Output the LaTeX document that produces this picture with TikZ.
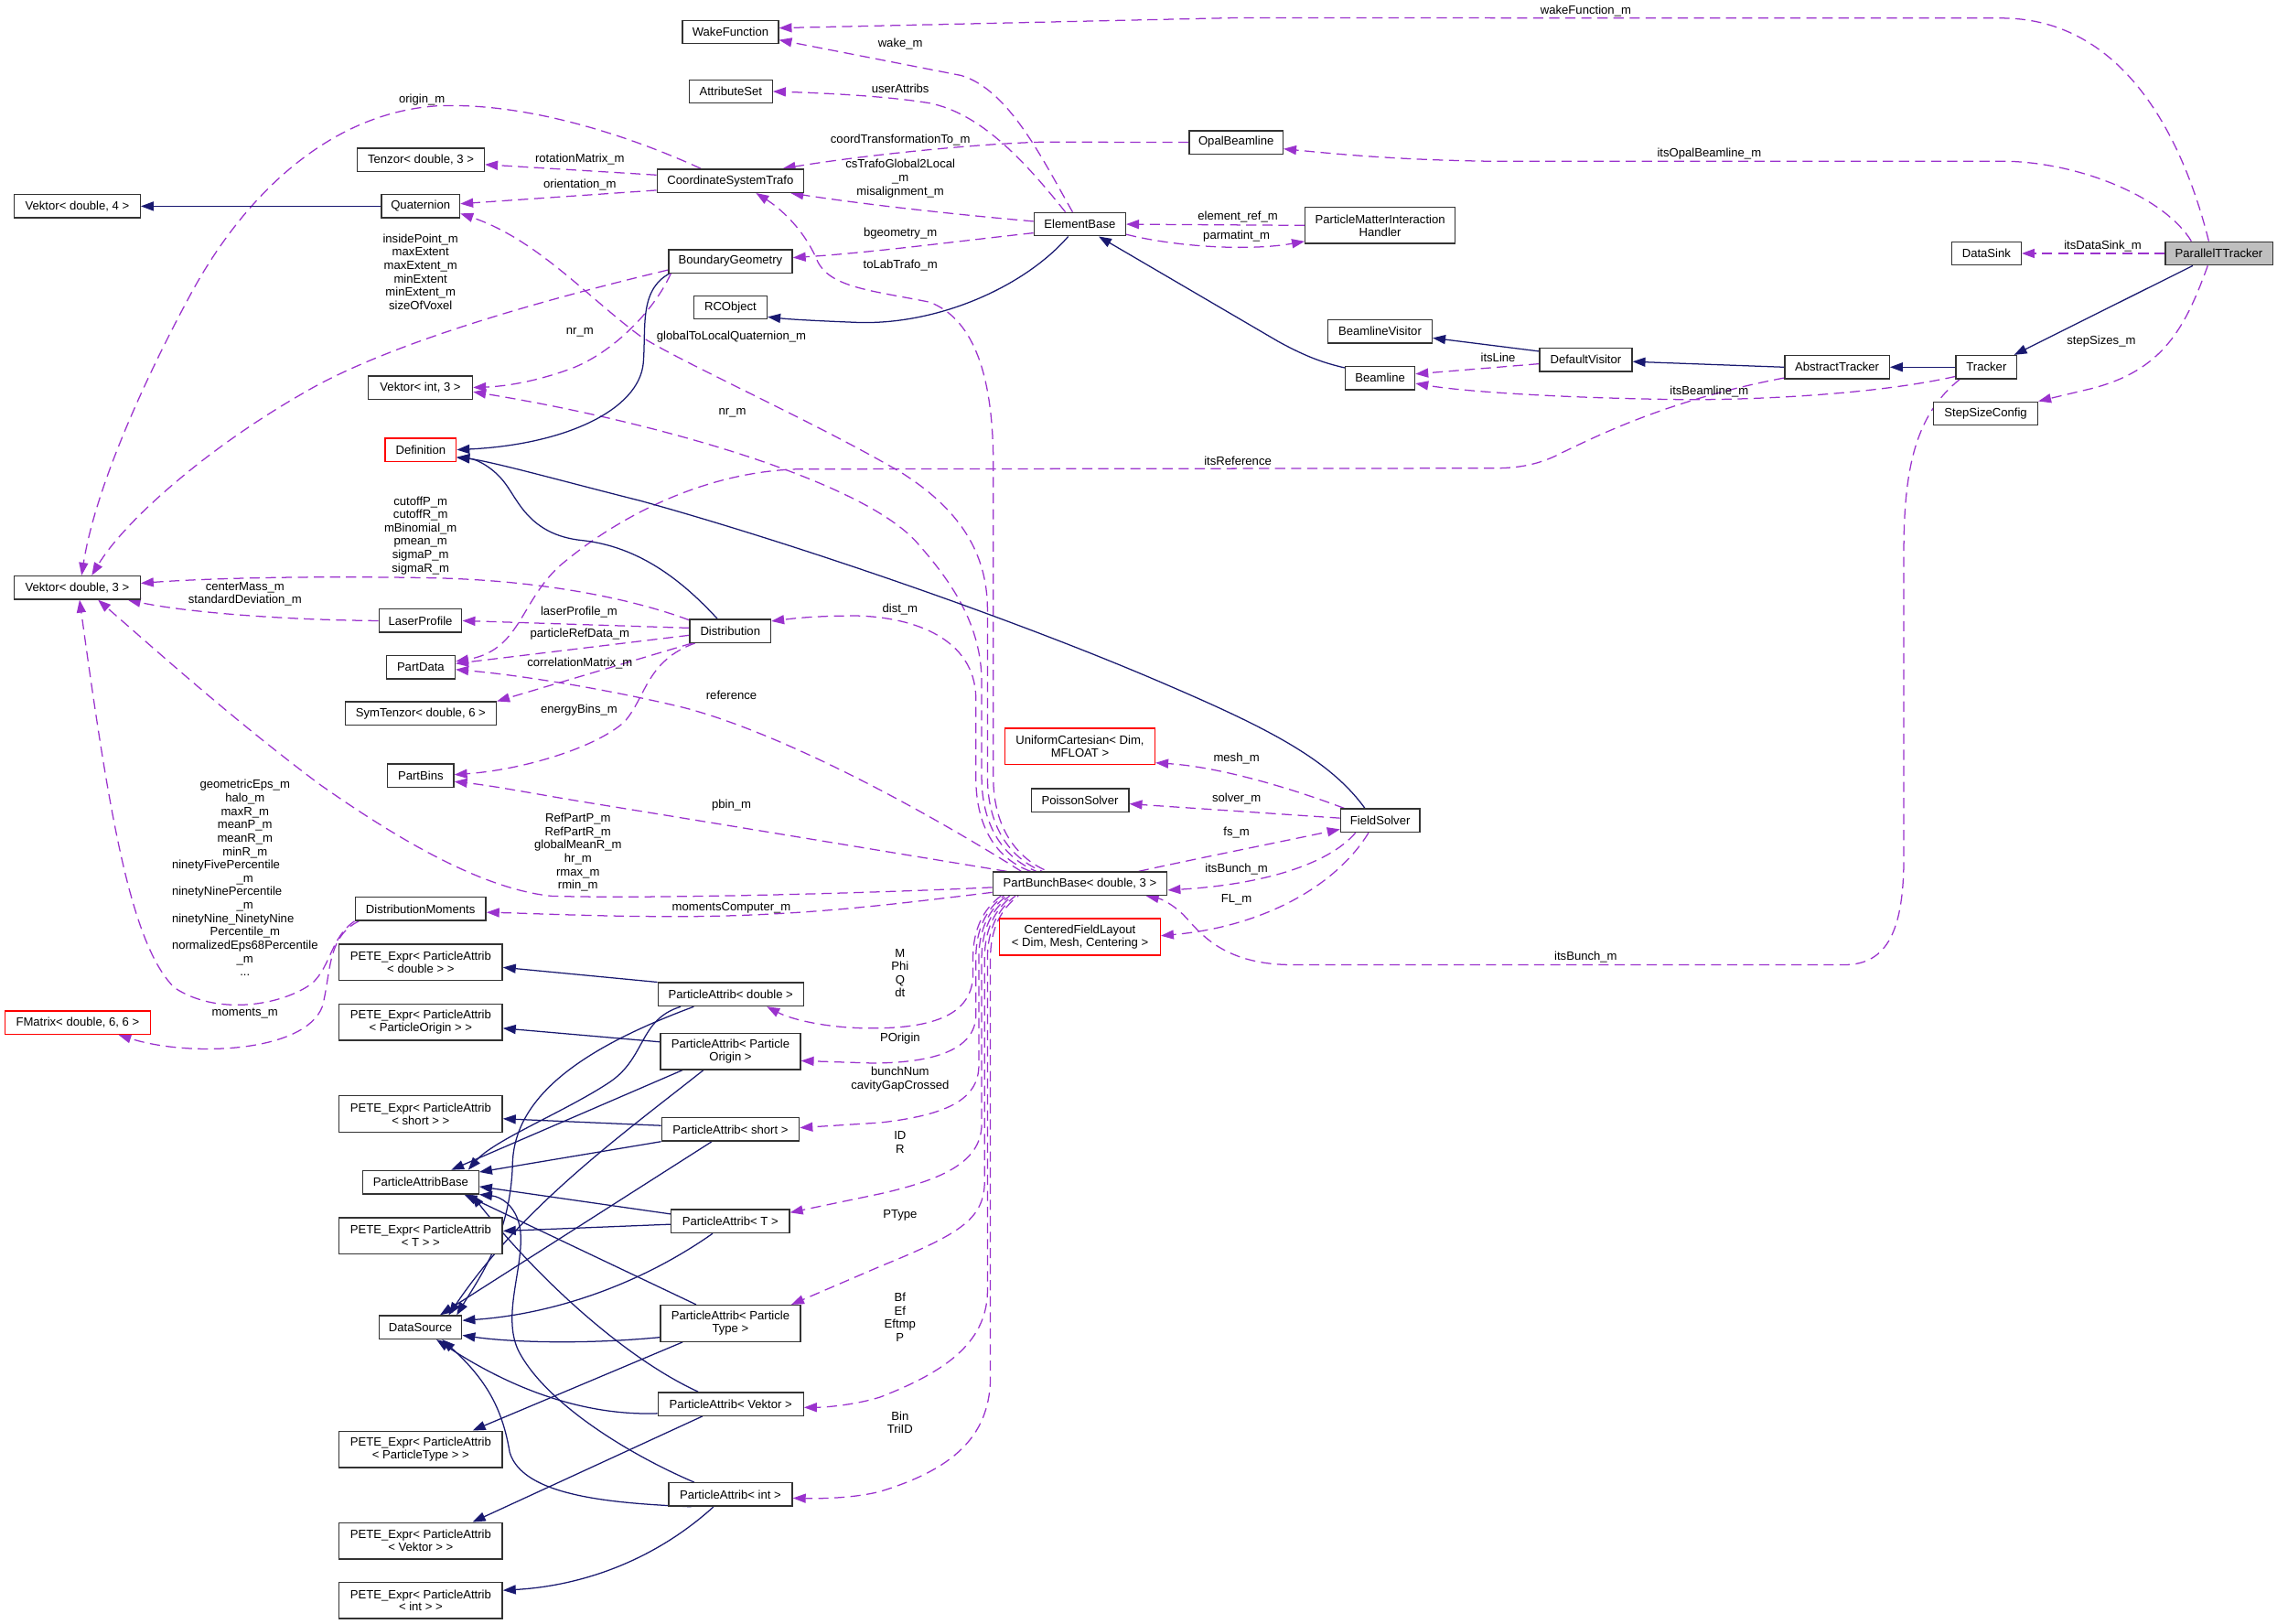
\documentclass[tikz,border=0pt]{standalone}
\usepackage{fontspec}
\setmainfont{Liberation Sans}
\usetikzlibrary{arrows.meta,calc,backgrounds}
\definecolor{eblue}{HTML}{191970}
\definecolor{epurp}{HTML}{9A32CD}
\newlength\LAw
\newcommand\LA[1]{\makebox[\LAw][l]{#1}}
\begin{document}
\settowidth{\LAw}{\fontsize{4.7}{5.25}\selectfont normalizedEps68Percentile}
\begin{tikzpicture}[x=0.02cm,y=-0.02cm,
 cls/.style={draw=black!80, line width=0.5pt, fill=white, inner sep=0pt, minimum height=0.32cm, font=\fontsize{4.7}{5.0}\selectfont, align=center},
 cls2/.style={cls, minimum height=0.5cm},
 redcls/.style={draw=red},
 inh/.style={draw=eblue, line width=0.45pt, -{Triangle[length=5pt,width=3.6pt]}},
 mem/.style={draw=epurp, line width=0.45pt, dash pattern=on 4pt off 2.3pt, -{Triangle[length=5pt,width=3.6pt]}},
 lbl/.style={font=\fontsize{4.7}{5.25}\selectfont, align=center, inner sep=0pt, text=black}]
\useasboundingbox (0,0) rectangle (1568,1118);

% ---------- nodes ----------
\node[cls,minimum width=1.32cm] (WF) at (503,22) {WakeFunction};
\node[cls,minimum width=1.146cm] (AS) at (503.2,63) {AttributeSet};
\node[cls,minimum width=2.02cm] (CST) at (503,124.5) {CoordinateSystemTrafo};
\node[cls,minimum width=1.704cm] (BG) at (503,179.9) {BoundaryGeometry};
\node[cls,minimum width=1.008cm] (RCO) at (503,211.7) {RCObject};
\node[cls,minimum width=1.26cm] (EB) at (743.6,154.4) {ElementBase};
\node[cls,minimum width=1.29cm] (OB) at (851.2,98) {OpalBeamline};
\node[cls2,minimum width=2.064cm] (PMIH) at (950.4,155.2) {ParticleMatterInteraction\\Handler};
\node[cls,minimum width=0.956cm] (DSink) at (1367.9,174.5) {DataSink};
\node[cls,minimum width=1.48cm,fill=black!25] (PTT) at (1528,174.5) {ParallelTTracker};
\node[cls,minimum width=1.434cm] (BV) at (950.3,228.2) {BeamlineVisitor};
\node[cls,minimum width=1.272cm] (DV) at (1092,247.7) {DefaultVisitor};
\node[cls,minimum width=0.956cm] (BL) at (950.4,260.3) {Beamline};
\node[cls,minimum width=1.442cm] (AT) at (1265,252.8) {AbstractTracker};
\node[cls,minimum width=0.84cm] (TR) at (1367.9,252.8) {Tracker};
\node[cls,minimum width=1.432cm] (SSC) at (1367.4,284.7) {StepSizeConfig};
\node[cls,minimum width=1.75cm] (TZ) at (289.8,110) {Tenzor< double, 3 >};
\node[cls,minimum width=1.734cm] (VD4) at (53.2,142) {Vektor< double, 4 >};
\node[cls,minimum width=1.08cm] (QT) at (289.6,142) {Quaternion};
\node[cls,minimum width=1.436cm] (VI3) at (289.5,266.8) {Vektor< int, 3 >};
\node[cls,redcls,minimum width=0.978cm] (DEF) at (289.7,309.7) {Definition};
\node[cls,minimum width=1.734cm] (VD3) at (53.2,404.6) {Vektor< double, 3 >};
\node[cls,minimum width=1.14cm] (LP) at (289.5,427.4) {LaserProfile};
\node[cls,minimum width=0.946cm] (PD) at (289.7,459.4) {PartData};
\node[cls,minimum width=2.082cm] (ST) at (289.7,491.3) {SymTenzor< double, 6 >};
\node[cls,minimum width=0.91cm] (PB) at (289.7,534) {PartBins};
\node[cls,minimum width=1.8cm] (DM) at (289.6,625.8) {DistributionMoments};
\node[cls2,minimum width=2.25cm] (PEd) at (289.7,662.6) {PETE\_Expr< ParticleAttrib\\< double > >};
\node[cls2,minimum width=2.25cm] (PEo) at (289.7,703.7) {PETE\_Expr< ParticleAttrib\\< ParticleOrigin > >};
\node[cls,redcls,minimum width=2.002cm] (FM) at (53.5,704) {FMatrix< double, 6, 6 >};
\node[cls2,minimum width=2.25cm] (PEs) at (289.7,766.9) {PETE\_Expr< ParticleAttrib\\< short > >};
\node[cls,minimum width=1.598cm] (PAB) at (289.7,814) {ParticleAttribBase};
\node[cls2,minimum width=2.25cm] (PEt) at (289.7,851) {PETE\_Expr< ParticleAttrib\\< T > >};
\node[cls,minimum width=1.14cm] (DS) at (289.5,913.9) {DataSource};
\node[cls2,minimum width=2.25cm] (PEp) at (289.7,997.9) {PETE\_Expr< ParticleAttrib\\< ParticleType > >};
\node[cls2,minimum width=2.25cm] (PEv) at (289.7,1060.9) {PETE\_Expr< ParticleAttrib\\< Vektor > >};
\node[cls2,minimum width=2.25cm] (PEi) at (289.7,1102) {PETE\_Expr< ParticleAttrib\\< int > >};
\node[cls,minimum width=1.114cm] (DIST) at (502.9,434.4) {Distribution};
\node[cls2,redcls,minimum width=2.064cm] (UC) at (743.7,514) {UniformCartesian< Dim,\\MFLOAT >};
\node[cls,minimum width=1.344cm] (PS) at (743.7,551) {PoissonSolver};
\node[cls,minimum width=2.4cm] (PBB) at (743.7,608.4) {PartBunchBase< double, 3 >};
\node[cls2,redcls,minimum width=2.212cm] (CFL) at (743.7,645.1) {CenteredFieldLayout\\< Dim, Mesh, Centering >};
\node[cls,minimum width=2.002cm] (PAd) at (503.2,684.7) {ParticleAttrib< double >};
\node[cls,minimum width=1.09cm] (FS) at (950.4,565) {FieldSolver};
\node[cls2,minimum width=1.928cm] (PAo) at (503,723.9) {ParticleAttrib< Particle\\Origin >};
\node[cls,minimum width=1.896cm] (PAs) at (503,777.6) {ParticleAttrib< short >};
\node[cls,minimum width=1.63cm] (PAt) at (502.9,840.9) {ParticleAttrib< T >};
\node[cls2,minimum width=1.928cm] (PAp) at (503,911.2) {ParticleAttrib< Particle\\Type >};
\node[cls,minimum width=2.002cm] (PAv) at (503.2,966.7) {ParticleAttrib< Vektor >};
\node[cls,minimum width=1.704cm] (PAi) at (503,1029) {ParticleAttrib< int >};

% ---------- edges ----------
\begin{pgfonlayer}{background}
\fill[white] (0,0) rectangle (1568,1118);
% --- members (dashed) ---
\draw[mem] ($(PTT.north)+(-7,0)$) .. controls (1507,110) and (1470,12.5) .. (1378,12.5) -- (850,12.3) -- ($(WF.east)+(0,-2.7)$);
\draw[mem] ($(EB.north)+(-5,0)$) .. controls (718,110) and (695,62) .. (662,52) -- ($(WF.east)+(0,5.5)$);
\draw[mem] ($(EB.north)+(-10,0)$) .. controls (705,110) and (675,78) .. (640,71) .. controls (610,66) and (565,64) .. (AS.east);
\draw[mem] (OB.west) -- (719,97.8) .. controls (680,98.5) and (600,106) .. ($(CST.north)+(36,0)$);
\draw[mem] ($(EB.west)+(0,-2)$) .. controls (650,147) and (590,140) .. ($(CST.south)+(41.5,0)$);
\draw[mem,dash phase=4.7pt] ($(PBB.north)+(-22,0)$) .. controls (702,592) and (684,572) .. (684,535) -- (684,320) .. controls (684,262) and (672,220) .. (640,208) .. controls (600,200) and (572,198) .. (563,180) .. controls (553,156) and (535,142) .. ($(CST.south)+(17.6,0)$);
\draw[mem] ($(EB.west)+(0,6)$) .. controls (660,166) and (600,174) .. ($(BG.east)+(0,-2.5)$);
\draw[mem] ($(CST.west)+(0,-4)$) -- ($(TZ.east)+(0,3.3)$);
\draw[mem] ($(CST.west)+(0,6.5)$) -- ($(QT.east)+(0,-1.7)$);
\draw[mem] ($(CST.north)+(-20.4,0)$) .. controls (430,92) and (360,70) .. (300,73) .. controls (230,78) and (170,130) .. (130,205) .. controls (95,270) and (65,340) .. ($(VD3.north)+(3,0)$);
\draw[mem,dash phase=3.1pt] ($(PBB.north)+(-26,0)$) .. controls (698,592) and (680,572) .. (680,535) -- (680,420) .. controls (680,380) and (660,350) .. (620,325) .. controls (560,290) and (470,250) .. (441,231.5) .. controls (405,205) and (370,165) .. ($(QT.east)+(0,5)$);
\draw[mem] ($(BG.west)+(0,6)$) .. controls (380,205) and (270,235) .. (210,270) .. controls (140,310) and (85,360) .. ($(VD3.north)+(10,0)$);
\draw[mem] ($(BG.south west)+(2,0)$) .. controls (450,215) and (420,245) .. (390,255) .. controls (370,262) and (350,266) .. (VI3.east);
\draw[mem,dash phase=1.6pt] ($(PBB.north)+(-30,0)$) .. controls (694,592) and (676,572) .. (676,535) -- (676,470) .. controls (676,430) and (655,400) .. (630,372) .. controls (590,330) and (450,290) .. ($(VI3.east)+(0,3)$);
\draw[mem] (PMIH.west) -- (EB.east);
\draw[mem] ($(EB.east)+(0,7)$) .. controls (810,170) and (860,173) .. ($(PMIH.west)+(0,11)$);
\draw[mem] ($(PTT.north)+(-19,0)$) .. controls (1490,135) and (1430,111) .. (1378,111) -- (1024,111) .. controls (960,110) and (920,106) .. ($(OB.east)+(0,4.5)$);
\draw[mem] (PTT.west) -- (DSink.east);
\draw[mem] ($(PTT.south)+(-7.7,0)$) .. controls (1505,225) and (1490,255) .. (1440,267.6) -- (SSC.north east);
\draw[mem] ($(DV.west)+(0,2.8)$) -- ($(BL.east)+(0,-2.8)$);
\draw[mem] ($(TR.west)+(0,6.4)$) .. controls (1290,272) and (1200,276) .. (1150,275) .. controls (1080,274) and (1010,270) .. ($(BL.east)+(0,3.7)$);
\draw[mem] ($(AT.south west)+(0,-1)$) .. controls (1150,275) and (1100,300) .. (1075,312) .. controls (1060,320) and (1045,322.4) .. (1029,322.4) -- (550,323) .. controls (480,325) and (420,360) .. (385,390) .. controls (358,415) and (358,448) .. ($(PD.east)+(0,-4)$);
\draw[mem] ($(TR.south west)+(3,0)$) .. controls (1320,285) and (1311,320) .. (1311,380) -- (1311,590) .. controls (1311,640) and (1300,664.3) .. (1270,664.3) -- (890,664.3) .. controls (840,664.3) and (825,640) .. (815,630) .. controls (808,623) and (800,619) .. ($(PBB.south east)+(-15,0)$);
\draw[mem] ($(FS.south)+(-17,0)$) .. controls (915,595) and (870,609) .. ($(PBB.east)+(0,4.5)$);
\draw[mem] ($(PBB.north east)+(-20,0)$) .. controls (820,592) and (880,580) .. ($(FS.west)+(0,6)$);
\draw[mem] ($(FS.south)+(-8,0)$) .. controls (920,610) and (870,638) .. ($(CFL.east)+(0,-0.8)$);
\draw[mem] ($(FS.north west)+(3,0)$) .. controls (890,543) and (840,528) .. ($(UC.south east)+(0,-1.7)$);
\draw[mem] ($(FS.west)+(0,-1.7)$) -- ($(PS.east)+(0,2.5)$);
\draw[mem] ($(PBB.north)+(-34,0)$) .. controls (688,592) and (672,572) .. (672,535) -- (672,480) .. controls (671,440) and (630,425) .. (590,424) .. controls (560,424) and (545,426) .. ($(DIST.east)+(0,-6.7)$);
\draw[mem] ($(DIST.north west)+(0,1)$) .. controls (440,414) and (380,400) .. (300,398) .. controls (200,396) and (130,399) .. ($(VD3.east)+(0,-3)$);
\draw[mem] (LP.west) .. controls (200,427) and (130,422) .. ($(VD3.south east)+(-9,0)$);
\draw[mem] ($(DIST.west)+(0,-2)$) -- (LP.east);
\draw[mem] ($(DIST.west)+(0,3)$) -- ($(PD.east)+(0,-2.5)$);
\draw[mem] ($(DIST.south west)+(2,0)$) -- (ST.north east);
\draw[mem] ($(DIST.south west)+(4,0)$) .. controls (445,455) and (445,480) .. (430,497) .. controls (410,515) and (360,530) .. ($(PB.east)+(0,-0.6)$);
\draw[mem] ($(PBB.north west)+(20,0)$) .. controls (640,560) and (540,505) .. (470,487) .. controls (420,475) and (360,465) .. ($(PD.east)+(0,1.6)$);
\draw[mem] ($(PBB.north west)+(10,0)$) .. controls (620,588) and (500,568) .. (409.5,553.4) .. controls (370,547) and (340,541) .. ($(PB.east)+(0,4.2)$);
\draw[mem] ($(PBB.west)+(0,2.6)$) .. controls (600,615) and (450,619) .. (380,617) .. controls (330,612) and (270,575) .. (220,540) .. controls (160,495) and (110,450) .. ($(VD3.south)+(14.3,0)$);
\draw[mem] ($(PBB.south west)+(0,-2.4)$) .. controls (620,622) and (560,630) .. (480,631) .. controls (420,631.5) and (370,629) .. ($(DM.east)+(0,2.4)$);
\draw[mem] (DM.south west) .. controls (228,645) and (228,665) .. (215,677) .. controls (195,692) and (150,700) .. (120,680) .. controls (90,650) and (75,560) .. ($(VD3.south)+(1.6,0)$);
\draw[mem] ($(DM.south west)+(3,0)$) .. controls (225,645) and (228,670) .. (222,693) .. controls (210,725) and (130,728) .. ($(FM.south)+(28,0)$);
% PartBunchBase -> ParticleAttrib<...>
\draw[mem] ($(PBB.south west)+(6,0)$) .. controls (677,626) and (670,640) .. (670,660) -- (670,672) .. controls (669,695) and (650,708) .. (600,708) .. controls (570,708) and (545,702) .. ($(PAd.south east)+(-25.6,0)$);
\draw[mem,dash phase=2.9pt] ($(PBB.south west)+(8,0)$) .. controls (679,626) and (672,640) .. (672,660) -- (672,700) .. controls (671,722) and (645,732) .. (600,732) -- ($(PAo.east)+(0,6.5)$);
\draw[mem,dash phase=5.4pt] ($(PBB.south west)+(10,0)$) .. controls (681,626) and (674,640) .. (674,660) -- (674,735) .. controls (673,758) and (650,768) .. (606,773) -- ($(PAs.east)+(0,-1.1)$);
\draw[mem,dash phase=1.4pt] ($(PBB.south west)+(12,0)$) .. controls (683,626) and (676,640) .. (676,660) -- (676,775) .. controls (675,800) and (650,812) .. (606,822) -- ($(PAt.east)+(0,-6)$);
\draw[mem,dash phase=4.1pt] ($(PBB.south west)+(14,0)$) .. controls (685,626) and (678,640) .. (678,660) -- (678,815) .. controls (677,840) and (660,850) .. (606,872) -- ($(PAp.north east)+(-6.7,0)$);
\draw[mem,dash phase=0.7pt] ($(PBB.south west)+(16,0)$) .. controls (687,626) and (680,640) .. (680,660) -- (680,890) .. controls (679,925) and (650,945) .. (606,962) .. controls (590,967) and (570,969) .. ($(PAv.east)+(0,2.4)$);
\draw[mem,dash phase=3.5pt] ($(PBB.south west)+(18,0)$) .. controls (689,626) and (682,640) .. (682,660) -- (682,950) .. controls (681,990) and (655,1012) .. (606,1027) .. controls (590,1031) and (570,1032) .. ($(PAi.east)+(0,2.5)$);

% --- inheritance (solid) ---
\draw[inh] (QT.west) -- (VD4.east);
\draw[inh] ($(BG.south west)+(1,0)$) .. controls (440,200) and (445,225) .. (443,250) .. controls (440,282) and (390,306) .. (DEF.east);
\draw[inh] ($(EB.south)+(-8,0)$) .. controls (705,198) and (645,224) .. (590,222) .. controls (565,221) and (545,220) .. ($(RCO.east)+(0,6.5)$);
\draw[inh] ($(BL.north west)+(0,1.4)$) .. controls (912,250) and (900,246) .. (880,235) -- ($(EB.south)+(13,0)$);
\draw[inh] ($(DV.north west)+(0,2.6)$) -- ($(BV.east)+(0,4.5)$);
\draw[inh] (AT.west) -- ($(DV.east)+(0,1.3)$);
\draw[inh] (TR.west) -- (AT.east);
\draw[inh] ($(PTT.south)+(-18,0)$) -- ($(TR.north east)+(-2.4,0)$);
\draw[inh] ($(DIST.north)+(-9,0)$) .. controls (470,400) and (440,376) .. (400,372) .. controls (365,368) and (357,345) .. (348,333) .. controls (340,322) and (328,316) .. ($(DEF.east)+(0,5.5)$);
\draw[inh] ($(FS.north)+(-10.5,0)$) .. controls (915,522) and (870,500) .. (800,470) .. controls (700,427) and (550,375) .. (441,344.8) .. controls (390,332) and (340,318) .. ($(DEF.east)+(0,5)$);
% ParticleAttrib<double>
\draw[inh] (PAd.north west) -- ($(PEd.east)+(0,3.5)$);
\draw[inh] ($(PAd.south west)+(16,0)$) .. controls (440,702) and (445,728) .. (420,745) .. controls (390,765) and (340,785) .. ($(PAB.north)+(32.7,0)$);
\draw[inh] ($(PAd.south west)+(25,0)$) .. controls (400,722) and (355,755) .. (353,800) .. controls (352,850) and (330,880) .. ($(DS.north)+(25,0)$);
% ParticleAttrib<ParticleOrigin>
\draw[inh] ($(PAo.west)+(0,-6.5)$) -- ($(PEo.east)+(0,4.3)$);
\draw[inh] ($(PAo.south west)+(15.6,0)$) -- ($(PAB.north)+(21,0)$);
\draw[inh] ($(PAo.south west)+(30,0)$) .. controls (430,780) and (360,830) .. ($(DS.north)+(19.5,0)$);
% ParticleAttrib<short>
\draw[inh] ($(PAs.west)+(0,-2.6)$) -- ($(PEs.east)+(0,3.4)$);
\draw[inh] (PAs.south west) -- ($(PAB.east)+(0,-7)$);
\draw[inh] ($(PAs.south west)+(35,0)$) -- ($(DS.north)+(13.5,0)$);
% ParticleAttrib<T>
\draw[inh] ($(PAt.west)+(0,2.1)$) -- ($(PEt.east)+(0,-3.4)$);
\draw[inh] ($(PAt.west)+(0,-5)$) -- ($(PAB.east)+(0,3)$);
\draw[inh] ($(PAt.south west)+(29,0)$) .. controls (440,885) and (380,905) .. ($(DS.east)+(0,-4.7)$);
% ParticleAttrib<ParticleType>
\draw[inh] ($(PAp.south west)+(15.6,0)$) -- ($(PEp.north)+(35.8,0)$);
\draw[inh] ($(PAp.north west)+(25,0)$) -- ($(PAB.south)+(30,0)$);
\draw[inh] ($(PAp.west)+(0,9.6)$) .. controls (400,926) and (350,924) .. ($(DS.east)+(0,5.5)$);
% ParticleAttrib<Vektor>
\draw[inh] ($(PAv.south west)+(31,0)$) -- ($(PEv.north)+(35.8,0)$);
\draw[inh] ($(PAv.north west)+(28,0)$) .. controls (430,935) and (370,880) .. ($(PAB.south)+(35,0)$);
\draw[inh] ($(PAv.west)+(0,6.5)$) .. controls (400,975) and (350,955) .. ($(DS.south)+(11,0)$);
% ParticleAttrib<int>
\draw[inh] ($(PAi.south)+(-11.6,0)$) .. controls (450,1075) and (400,1092) .. ($(PEi.east)+(0,-7)$);
\draw[inh] ($(PAi.north west)+(18,0)$) .. controls (430,1000) and (375,965) .. (357,930) .. controls (345,905) and (362,870) .. (358,845) .. controls (355,830) and (345,824) .. (PAB.south east);
\draw[inh] ($(PAi.south west)+(16,0)$) .. controls (420,1035) and (360,1030) .. (351,1000) .. controls (346,970) and (335,950) .. ($(DS.south)+(15,0)$);
\end{pgfonlayer}

% ---------- edge labels ----------
\node[lbl] (l1) at (1092,7.3) {wakeFunction\_m};
\node[lbl] (l2) at (620,30) {wake\_m};
\node[lbl] (l3) at (620,60.8) {userAttribs};
\node[lbl] (l4) at (620,96.4) {coordTransformationTo\_m};
\node[lbl] (l5) at (620,123) {csTrafoGlobal2Local\\\_m\\misalignment\_m};
\node[lbl] (l6) at (620,161) {bgeometry\_m};
\node[lbl] (l7) at (620,182.5) {toLabTrafo\_m};
\node[lbl] (l8) at (290.5,68.7) {origin\_m};
\node[lbl] (l9) at (399.3,109.7) {rotationMatrix\_m};
\node[lbl] (l10) at (399.3,127) {orientation\_m};
\node[lbl] (l11) at (289.6,187.2) {insidePoint\_m\\maxExtent\\maxExtent\_m\\minExtent\\minExtent\_m\\sizeOfVoxel};
\node[lbl] (l12) at (399.3,229) {nr\_m};
\node[lbl] (l13) at (503.7,231.7) {globalToLocalQuaternion\_m};
\node[lbl] (l14) at (504.3,284.5) {nr\_m};
\node[lbl] (l15) at (852.4,149.5) {element\_ref\_m};
\node[lbl] (l16) at (851.5,162.3) {parmatint\_m};
\node[lbl] (l17) at (1177,105.6) {itsOpalBeamline\_m};
\node[lbl] (l18) at (1448,169.5) {itsDataSink\_m};
\node[lbl] (l19) at (1447,235) {stepSizes\_m};
\node[lbl] (l20) at (1031.6,246.4) {itsLine};
\node[lbl] (l21) at (1177,269.6) {itsBeamline\_m};
\node[lbl] (l22) at (852.4,317.3) {itsReference};
\node[lbl] (l23) at (1092,658.7) {itsBunch\_m};
\node[lbl] (l24) at (851.5,598.5) {itsBunch\_m};
\node[lbl] (l25) at (851.5,573.1) {fs\_m};
\node[lbl] (l26) at (851.5,619.7) {FL\_m};
\node[lbl] (l27) at (851.5,522) {mesh\_m};
\node[lbl] (l28) at (851.5,550.2) {solver\_m};
\node[lbl] (l29) at (619.8,419.3) {dist\_m};
\node[lbl] (l30) at (289.6,368.7) {cutoffP\_m\\cutoffR\_m\\mBinomial\_m\\pmean\_m\\sigmaP\_m\\sigmaR\_m};
\node[lbl] (l31) at (168.7,409) {centerMass\_m\\standardDeviation\_m};
\node[lbl] (l32) at (398.7,421.2) {laserProfile\_m};
\node[lbl] (l33) at (399.3,436.4) {particleRefData\_m};
\node[lbl] (l34) at (399.3,456.9) {correlationMatrix\_m};
\node[lbl] (l35) at (398.7,488.8) {energyBins\_m};
\node[lbl] (l36) at (503.7,478.6) {reference};
\node[lbl] (l37) at (503.7,554.3) {pbin\_m};
\node[lbl] (l38) at (398,587) {RefPartP\_m\\RefPartR\_m\\globalMeanR\_m\\hr\_m\\rmax\_m\\rmin\_m};
\node[lbl] (l39) at (503.7,625) {momentsComputer\_m};
\node[lbl] (l40) at (168.7,604.5) {geometricEps\_m\\halo\_m\\maxR\_m\\meanP\_m\\meanR\_m\\minR\_m\\\LA{ninetyFivePercentile}\\\_m\\\LA{ninetyNinePercentile}\\\_m\\\LA{ninetyNine\_NinetyNine}\\Percentile\_m\\normalizedEps68Percentile\\\_m\\...};
\node[lbl] (l41) at (168.7,698) {moments\_m};
\node[lbl] (l42) at (619.8,670) {M\\Phi\\Q\\dt};
\node[lbl] (l43) at (619.8,715.2) {POrigin};
\node[lbl] (l44) at (619.8,743.3) {bunchNum\\cavityGapCrossed};
\node[lbl] (l45) at (619.8,786.7) {ID\\R};
\node[lbl] (l46) at (619.8,836.7) {PType};
\node[lbl] (l47) at (619.8,906.9) {Bf\\Ef\\Eftmp\\P};
\node[lbl] (l48) at (619.8,979.4) {Bin\\TriID};
\end{tikzpicture}
\end{document}
